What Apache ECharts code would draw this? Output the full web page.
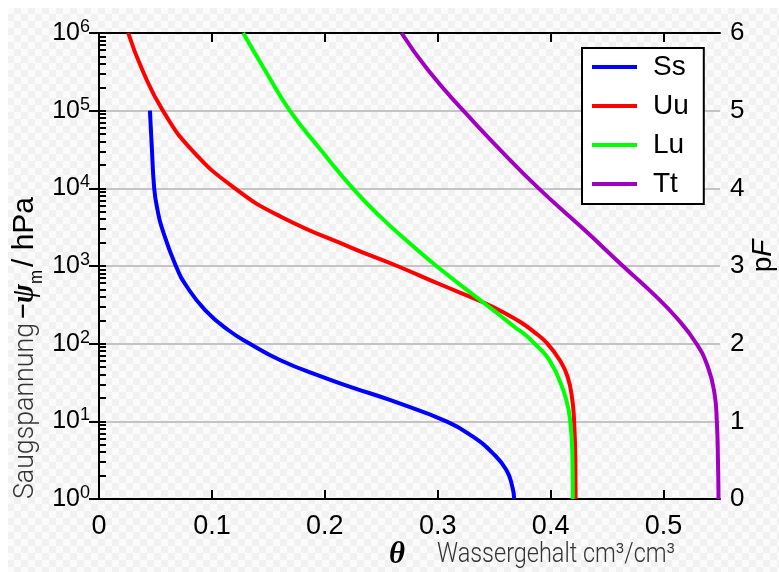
<!DOCTYPE html>
<html>
<head>
<meta charset="utf-8">
<title>pF-Kurven</title>
<script src="https://cdn.jsdelivr.net/npm/echarts@6/dist/echarts.min.js"></script>
<style>
html, body { margin: 0; padding: 0; background: #fff; }
#chart {
    width: 779px; height: 572px;
    background-color: #fafafa;
    background-image:
        linear-gradient(#fff, #fff),
        linear-gradient(#fff, #fff),
        conic-gradient(#f1f1f1 25%, #fbfbfb 0 50%, #f1f1f1 0 75%, #fbfbfb 0);
    background-size: 100% 8px, 8px 100%, 14px 14px;
    background-repeat: no-repeat, no-repeat, repeat;
}
</style>
</head>
<body>
<div id="chart"></div>
<script>
// Bodenarten
var soilNames = ['Ss', 'Uu', 'Lu', 'Tt'];
var soilColors = ['#0000ff', '#ff0000', '#00ff00', '#a100c2'];

var pfSs    = [5.0, 4.493, 4.0, 3.74, 3.502, 3.0, 2.733, 2.433, 2.176, 2.0, 1.79, 1.575, 1.425, 1.275, 1.0, 0.802, 0.588, 0.373, 0.158, 0];
var thetaSs = [0.0451, 0.0469, 0.0489, 0.0516, 0.0555, 0.0681, 0.0779, 0.0940, 0.1144, 0.1336, 0.1602, 0.1971, 0.2265, 0.2575, 0.3077, 0.3312, 0.3489, 0.3608, 0.3661, 0.3677];

var pfUu    = [6.0, 5.523, 5.0, 4.493, 4.0, 3.635, 3.228, 3.0, 2.755, 2.533, 2.404, 2.275, 2.146, 2.005, 1.79, 1.575, 1.275, 0.995, 0.5, 0];
var thetaUu = [0.0259, 0.0384, 0.0566, 0.0823, 0.1204, 0.1611, 0.2248, 0.2641, 0.3035, 0.3401, 0.3581, 0.3735, 0.3858, 0.3969, 0.4080, 0.4150, 0.4192, 0.4208, 0.4219, 0.4221];

var pfLu    = [6.0, 5.523, 5.0, 4.493, 4.0, 3.635, 3.292, 3.0, 2.533, 2.369, 2.215, 2.099, 2.005, 1.854, 1.712, 1.575, 1.275, 0.995, 0.588, 0];
var thetaLu = [0.1277, 0.1469, 0.169, 0.1965, 0.2248, 0.2491, 0.2752, 0.2988, 0.3401, 0.3547, 0.3681, 0.3788, 0.3854, 0.3956, 0.4018, 0.4065, 0.4139, 0.4174, 0.4192, 0.4197];

var pfTt    = [6.0, 5.523, 5.0, 4.493, 4.0, 3.463, 3.0, 2.648, 2.327, 2.005, 1.703, 1.361, 0.995, 0.5, 0];
var thetaTt = [0.2679, 0.2914, 0.3227, 0.3555, 0.3894, 0.4301, 0.464, 0.4905, 0.5119, 0.5289, 0.5392, 0.5451, 0.5472, 0.5482, 0.5487];

// Achsen
var thetaTicks = [0, 0.1, 0.2, 0.3, 0.4, 0.5];
var decadeTicks = [1, 10, 100, 1000, 10000, 100000, 1000000];

var pfList = [pfSs, pfUu, pfLu, pfTt];
var thetaList = [thetaSs, thetaUu, thetaLu, thetaTt];

function toPairs(theta, pf) {
    var out = [];
    for (var i = 0; i < theta.length; i++) {
        out.push([theta[i], Math.pow(10, pf[i])]);
    }
    return out;
}

// logarithmische Nebenstriche 1..9 je Dekade
var logMinorTicks = [];
for (var n = 0; n < 6; n++) {
    for (var k = 1; k <= 9; k++) {
        logMinorTicks.push(k * Math.pow(10, n));
    }
}
logMinorTicks.push(1000000);

var labelFont = "'Liberation Sans', Arial, sans-serif";
var thinFont = "Roboto, 'Liberation Sans', sans-serif";
var serifFont = "'Liberation Serif', 'DejaVu Serif', serif";

// Textbreite messen, damit die schmalen Achsentitel die Länge wie im Original bekommen
var measureCtx = document.createElement('canvas').getContext('2d');
function textWidth(str, font) {
    measureCtx.font = font;
    return measureCtx.measureText(str).width;
}

// Titelstück; rot = true -> von unten nach oben gelesen
function titlePiece(str, x, y, len, size, family, weight, style, color, rot) {
    var w = textWidth(str, (style || 'normal') + ' ' + (weight || 'normal') + ' ' + size + 'px ' + family);
    return {
        type: 'text',
        x: x,
        y: y,
        rotation: rot ? Math.PI / 2 : 0,
        scaleX: len ? len / w : 1,
        style: {
            text: str,
            align: 'left',
            verticalAlign: 'middle',
            fontFamily: family,
            fontSize: size,
            fontWeight: weight || 'normal',
            fontStyle: style || 'normal',
            fill: color
        }
    };
}

var seriesData = [];
for (var s = 0; s < soilNames.length; s++) {
    seriesData.push({
        name: soilNames[s],
        type: 'line',
        xAxisIndex: 0,
        yAxisIndex: 0,
        smooth: 0.5,
        showSymbol: false,
        symbol: 'none',
        lineStyle: { width: 4, color: soilColors[s] },
        itemStyle: { color: soilColors[s] },
        data: toPairs(thetaList[s], pfList[s])
    });
}

var chart = echarts.init(document.getElementById('chart'), null, { renderer: 'canvas' });
chart.setOption({
    animation: false,
    backgroundColor: 'transparent',
    color: soilColors,
    grid: { left: 99, right: 59, top: 33, bottom: 73 },
    legend: {
        orient: 'vertical',
        left: 582,
        top: 48,
        padding: [4, 15, 5, 10],
        itemGap: 9,
        itemWidth: 45,
        itemHeight: 4,
        icon: 'rect',
        borderColor: '#000',
        borderWidth: 2,
        backgroundColor: '#fff',
        data: soilNames,
        textStyle: {
            fontFamily: labelFont,
            fontSize: 28,
            lineHeight: 30,
            color: '#000',
            padding: [0, 0, 0, 11]
        }
    },
    xAxis: [{
        type: 'value',
        min: 0,
        max: 0.55,
        interval: 0.1,
        position: 'bottom',
        axisLine: { lineStyle: { color: '#000', width: 2 } },
        axisTick: { inside: true, length: 9, lineStyle: { color: '#000', width: 2 }, customValues: thetaTicks },
        axisLabel: {
            customValues: thetaTicks,
            margin: 14,
            fontFamily: labelFont,
            fontSize: 27,
            color: '#000',
            formatter: function (v) { return v === 0 ? '0' : v.toFixed(1); }
        },
        splitLine: { show: false }
    }, {
        type: 'value',
        min: 0,
        max: 0.55,
        interval: 0.1,
        position: 'top',
        axisLine: { lineStyle: { color: '#000', width: 2 } },
        axisTick: { inside: true, length: 9, lineStyle: { color: '#000', width: 2 }, customValues: thetaTicks },
        axisLabel: { show: false },
        splitLine: { show: false }
    }],
    yAxis: [{
        type: 'log',
        logBase: 10,
        min: 1,
        max: 1000000,
        interval: 1,
        position: 'left',
        axisLine: { lineStyle: { color: '#000', width: 2 } },
        axisTick: { inside: true, length: 7, lineStyle: { color: '#000', width: 2 }, customValues: logMinorTicks },
        axisLabel: {
            customValues: decadeTicks,
            margin: 9,
            fontFamily: labelFont,
            fontSize: 25,
            color: '#000',
            formatter: function (v) {
                return '10{sup|' + Math.round(Math.log(v) / Math.LN10) + '}';
            },
            rich: {
                sup: { fontFamily: labelFont, fontSize: 18, color: '#000', verticalAlign: 'top', padding: [0, 0, 12, 0] }
            }
        },
        splitLine: { show: false }
    }, {
        type: 'value',
        min: 0,
        max: 6,
        interval: 1,
        position: 'right',
        axisLine: { lineStyle: { color: '#000', width: 2 } },
        axisTick: { inside: true, length: 10, lineStyle: { color: '#000', width: 2 } },
        axisLabel: { margin: 10, fontFamily: labelFont, fontSize: 26, color: '#000' },
        splitLine: { show: true, lineStyle: { color: '#c4c4c4', width: 2 } }
    }],
    graphic: [
        // linker Achsentitel, von unten nach oben
        titlePiece('Saugspannung', 26, 499, 176, 27, thinFont, 300, null, '#333', true),
        titlePiece('\u2212\u03c8', 25, 320, 36, 31, serifFont, 'bold', 'italic', '#000', true),
        titlePiece('m', 37, 284, 14, 18, labelFont, 'normal', null, '#000', true),
        titlePiece('/ hPa', 25, 267, 70, 29, labelFont, 'normal', null, '#000', true),
        // unterer Achsentitel
        titlePiece('\u03b8', 389, 555, 16, 31, serifFont, 'bold', 'italic', '#000', false),
        titlePiece('Wassergehalt cm\u00b3/cm\u00b3', 437, 555, 238, 27, thinFont, 300, null, '#333', false),
        // pF rechts
        {
            type: 'text',
            x: 763,
            y: 256,
            rotation: Math.PI / 2,
            style: {
                text: 'p{f|F}',
                align: 'center',
                verticalAlign: 'middle',
                fontFamily: labelFont,
                fontSize: 28,
                fill: '#000',
                rich: { f: { fontFamily: labelFont, fontStyle: 'italic', fontSize: 28, color: '#000' } }
            }
        }
    ],
    series: seriesData
});
</script>
</body>
</html>
